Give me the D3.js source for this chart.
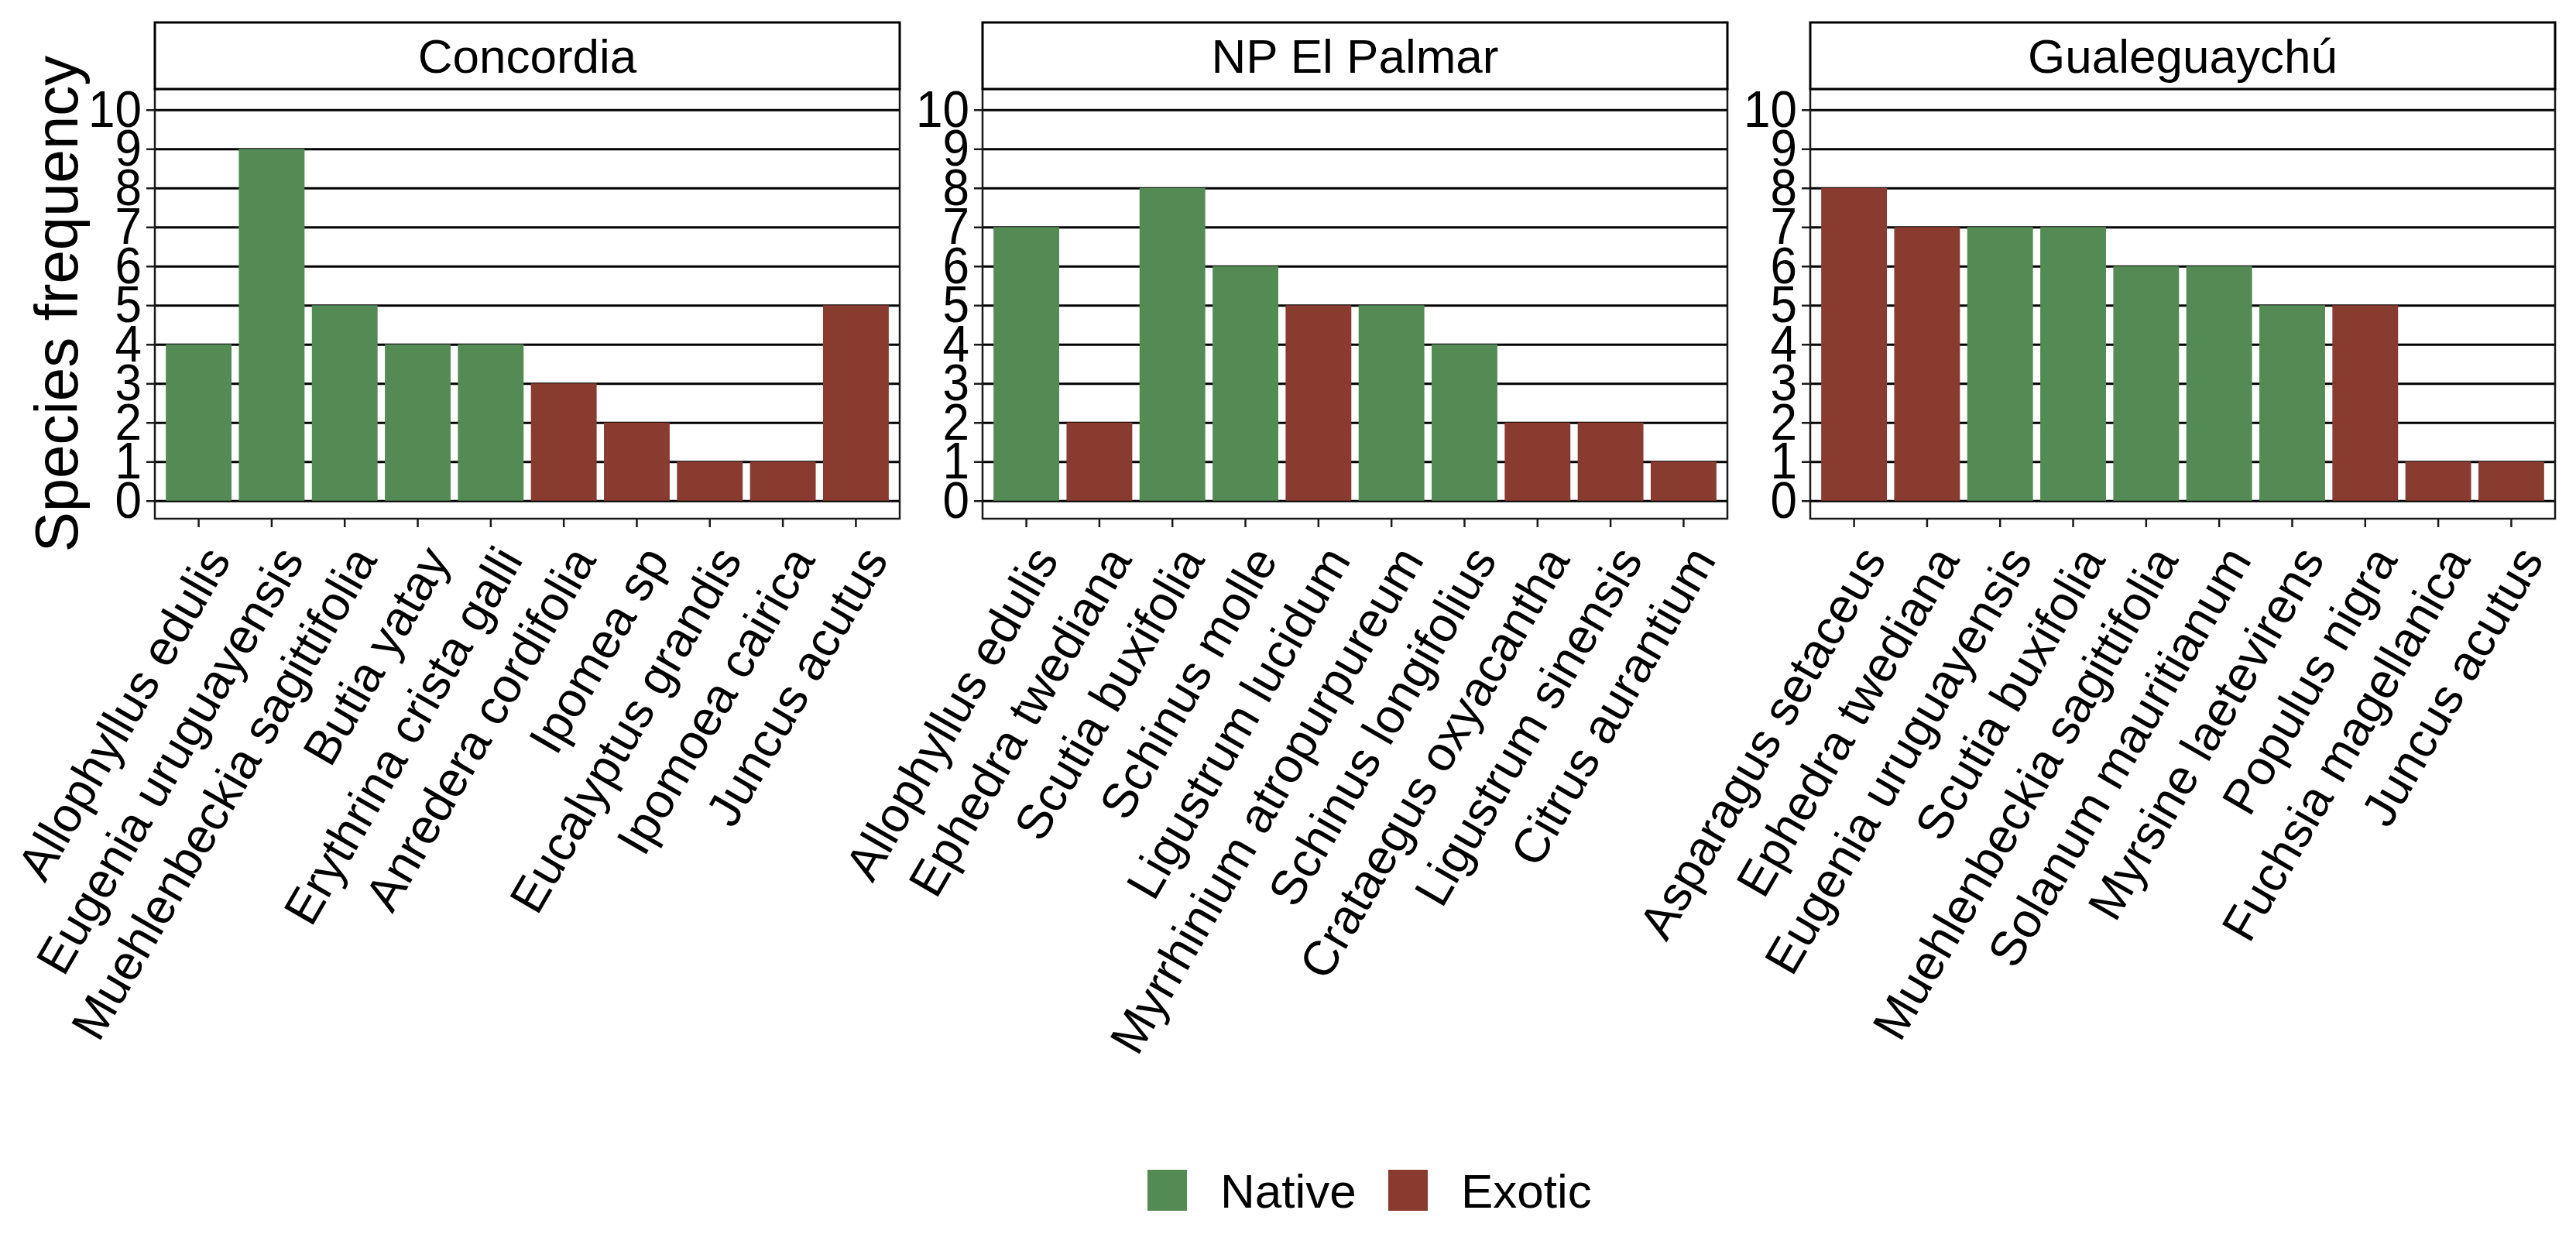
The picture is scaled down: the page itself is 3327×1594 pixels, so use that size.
<!DOCTYPE html>
<html>
<head>
<meta charset="utf-8">
<script src="https://cdn.jsdelivr.net/npm/d3@7"></script>
<style>
  body { margin: 0; background: #ffffff; }
  text { font-family: "Liberation Sans", Arial, sans-serif; }
</style>
</head>
<body>
<main></main>
<script>
// Species frequency per site, faceted bar chart

// Data
const sites = ["Concordia", "NP El Palmar", "Gualeguaychú"];

const concordiaSpecies = ["Allophyllus edulis", "Eugenia uruguayensis", "Muehlenbeckia sagittifolia", "Butia yatay", "Erythrina crista galli", "Anredera cordifolia", "Ipomea sp", "Eucalyptus grandis", "Ipomoea cairica", "Juncus acutus"];
const concordiaFreq = [4, 9, 5, 4, 4, 3, 2, 1, 1, 5];
const concordiaOrigin = ["Native", "Native", "Native", "Native", "Native", "Exotic", "Exotic", "Exotic", "Exotic", "Exotic"];

const palmarSpecies = ["Allophyllus edulis", "Ephedra twediana", "Scutia buxifolia", "Schinus molle", "Ligustrum lucidum", "Myrrhinium atropurpureum", "Schinus longifolius", "Crataegus oxyacantha", "Ligustrum sinensis", "Citrus aurantium"];
const palmarFreq = [7, 2, 8, 6, 5, 5, 4, 2, 2, 1];
const palmarOrigin = ["Native", "Exotic", "Native", "Native", "Exotic", "Native", "Native", "Exotic", "Exotic", "Exotic"];

const gualeSpecies = ["Asparagus setaceus", "Ephedra twediana", "Eugenia uruguayensis", "Scutia buxifolia", "Muehlenbeckia sagittifolia", "Solanum mauritianum", "Myrsine laetevirens", "Populus nigra", "Fuchsia magellanica", "Juncus acutus"];
const gualeFreq = [8, 7, 7, 7, 6, 6, 5, 5, 1, 1];
const gualeOrigin = ["Exotic", "Exotic", "Native", "Native", "Native", "Native", "Native", "Exotic", "Exotic", "Exotic"];

const yTicks = [0, 1, 2, 3, 4, 5, 6, 7, 8, 9, 10];
const origins = ["Native", "Exotic"];

const panels = [
	{ site: sites[0], species: concordiaSpecies, freq: concordiaFreq, origin: concordiaOrigin },
	{ site: sites[1], species: palmarSpecies, freq: palmarFreq, origin: palmarOrigin },
	{ site: sites[2], species: gualeSpecies, freq: gualeFreq, origin: gualeOrigin }
];

// Plot parameters
const w = 3327;
const h = 1594;
const stripTop = 29;
const panelTop = 115;
const panelBottom = 670;
const panelW = 962;
const panelLefts = [200, 1269, 2338];
const fontSize = 62;
const lineCol = "#1a1a1a";
const lineW = 2.5;

const color = d3.scaleOrdinal()
				.domain(origins)
				.range(["#548b54", "#8a3b30"]);

const svg = d3.select("main")
			  .append("svg")
			  .attr("width", w)
			  .attr("height", h)
			  .style("display", "block")
			  .style("background", "#ffffff");

// Shared y scale
const yScale = d3.scaleLinear()
				 .domain([-0.46, 10.53])
				 .range([panelBottom, panelTop]);

panels.forEach(function (p, i) {
	const left = panelLefts[i];
	const rows = p.species.map((s, k) => ({ species: s, freq: p.freq[k], origin: p.origin[k] }));

	const xScale = d3.scaleBand()
					 .domain(p.species)
					 .range([left, left + panelW])
					 .paddingInner(0.1)
					 .paddingOuter(0.15);

	const g = svg.append("g").attr("class", "panel");

	// Horizontal grid
	g.append("g")
	 .attr("transform", "translate(" + left + ",0)")
	 .call(d3.axisLeft(yScale).tickValues(yTicks).tickSize(-panelW).tickFormat(""))
	 .call(s => s.select(".domain").remove())
	 .selectAll("line")
	 .attr("stroke", "#000000")
	 .attr("stroke-width", 3);

	// Bars
	g.selectAll("rect.bar")
	 .data(rows)
	 .enter()
	 .append("rect")
	 .attr("class", "bar")
	 .attr("x", d => xScale(d.species))
	 .attr("y", d => yScale(d.freq))
	 .attr("width", xScale.bandwidth())
	 .attr("height", d => yScale(0) - yScale(d.freq))
	 .attr("fill", d => color(d.origin));

	// Panel border
	g.append("rect")
	 .attr("x", left)
	 .attr("y", panelTop)
	 .attr("width", panelW)
	 .attr("height", panelBottom - panelTop)
	 .attr("fill", "none")
	 .attr("stroke", lineCol)
	 .attr("stroke-width", lineW);

	// Strip
	g.append("rect")
	 .attr("x", left)
	 .attr("y", stripTop)
	 .attr("width", panelW)
	 .attr("height", panelTop - stripTop)
	 .attr("fill", "#ffffff")
	 .attr("stroke", "#000000")
	 .attr("stroke-width", 3);

	g.append("text")
	 .attr("x", left + panelW / 2)
	 .attr("y", (stripTop + panelTop) / 2 + 0.358 * fontSize)
	 .attr("text-anchor", "middle")
	 .attr("font-size", fontSize)
	 .attr("fill", "#000000")
	 .text(p.site);

	// Y axis
	g.append("g")
	 .attr("transform", "translate(" + left + ",0)")
	 .call(d3.axisLeft(yScale).tickValues(yTicks).tickSize(11).tickPadding(6))
	 .call(s => s.select(".domain").remove())
	 .call(s => s.selectAll("line").attr("stroke", lineCol).attr("stroke-width", lineW))
	 .call(s => s.selectAll("text")
	 			 .attr("font-size", fontSize)
	 			 .attr("font-family", "'Liberation Sans', Arial, sans-serif")
	 			 .attr("fill", "#000000")
	 			 .attr("transform", "scale(1,1.08)"));

	// X axis
	g.append("g")
	 .attr("transform", "translate(0," + panelBottom + ")")
	 .call(d3.axisBottom(xScale).tickSize(11))
	 .call(s => s.select(".domain").remove())
	 .call(s => s.selectAll("line").attr("stroke", lineCol).attr("stroke-width", lineW))
	 .call(s => s.selectAll("text")
	 			 .attr("font-size", 63)
	 			 .attr("font-family", "'Liberation Sans', Arial, sans-serif")
	 			 .attr("fill", "#000000")
	 			 .attr("text-anchor", "end")
	 			 .attr("x", 43)
	 			 .attr("y", 53)
	 			 .attr("dy", 0)
	 			 .attr("transform", "rotate(-60,43,53)"));
});

// Y axis title
svg.append("text")
   .attr("transform", "translate(100," + ((panelTop + panelBottom) / 2) + ") rotate(-90)")
   .attr("text-anchor", "middle")
   .attr("font-size", 78)
   .attr("fill", "#000000")
   .text("Species frequency");

// Legend
const legendX = [1482, 1793];
const legend = svg.append("g").attr("class", "legend");

legend.selectAll("rect")
	  .data(origins)
	  .enter()
	  .append("rect")
	  .attr("x", (d, k) => legendX[k])
	  .attr("y", 1511)
	  .attr("width", 51)
	  .attr("height", 53)
	  .attr("fill", d => color(d));

legend.selectAll("text")
	  .data(origins)
	  .enter()
	  .append("text")
	  .attr("x", (d, k) => legendX[k] + 94)
	  .attr("y", 1560)
	  .attr("font-size", fontSize)
	  .attr("fill", "#000000")
	  .text(d => d);
</script>
</body>
</html>
